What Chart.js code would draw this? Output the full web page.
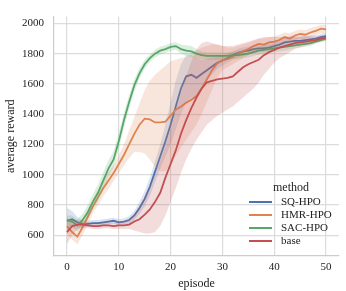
<!DOCTYPE html>
<html>
<head>
<meta charset="utf-8">
<script src="https://cdn.jsdelivr.net/npm/chart.js@4.4.1/dist/chart.umd.min.js"></script>
<style>
  html, body { margin: 0; padding: 0; background: #fff; }
  #wrap { width: 346px; height: 291px; }
</style>
</head>
<body>
<div id="wrap"><canvas id="grafico" width="346" height="291"></canvas></div>
<script>
const episodes = [0,1,2,3,4,5,6,7,8,9,10,11,12,13,14,15,16,17,18,19,20,21,22,23,24,25,26,27,28,29,30,31,32,33,34,35,36,37,38,39,40,41,42,43,44,45,46,47,48,49,50];
const methods = ['SQ-HPO', 'HMR-HPO', 'SAC-HPO', 'base'];
const yTicks = [600, 800, 1000, 1200, 1400, 1600, 1800, 2000];
const xTicks = [0, 10, 20, 30, 40, 50];

// mean curves
const sqMean  = [695,705,685,675,675,680,680,685,690,695,685,690,700,730,780,840,920,1020,1120,1220,1330,1450,1570,1650,1660,1640,1665,1690,1715,1740,1755,1770,1790,1805,1815,1820,1830,1835,1835,1840,1850,1860,1875,1880,1885,1885,1890,1895,1900,1910,1915];
const hmrMean = [660,620,590,650,720,790,850,910,960,1010,1070,1130,1200,1270,1330,1370,1365,1345,1345,1350,1390,1430,1450,1475,1495,1520,1570,1630,1690,1735,1755,1765,1780,1800,1815,1830,1850,1865,1860,1875,1880,1890,1910,1900,1920,1930,1925,1940,1950,1965,1960];
const sacMean = [700,690,665,700,750,820,880,960,1040,1100,1220,1360,1480,1590,1670,1730,1770,1800,1820,1830,1845,1850,1830,1820,1815,1800,1790,1785,1785,1785,1785,1785,1790,1790,1795,1800,1810,1820,1825,1830,1835,1840,1845,1850,1855,1860,1865,1870,1880,1890,1900];
const baseMean = [620,660,670,670,665,660,660,665,665,660,665,665,670,690,705,735,770,820,880,980,1070,1160,1270,1360,1440,1510,1570,1610,1620,1630,1635,1640,1650,1680,1710,1730,1745,1760,1790,1810,1825,1840,1850,1860,1870,1875,1880,1885,1890,1900,1905];

// confidence bands
const sqLo  = [630,650,650,650,655,660,660,665,670,675,665,670,675,700,740,790,860,950,1040,1120,1200,1300,1400,1480,1510,1520,1570,1620,1660,1700,1720,1740,1760,1775,1785,1795,1805,1810,1810,1815,1825,1835,1850,1855,1860,1860,1865,1870,1880,1890,1895];
const sqHi  = [780,760,720,700,695,700,700,705,710,715,705,710,725,760,820,890,980,1090,1200,1330,1480,1620,1730,1790,1790,1770,1760,1765,1775,1780,1790,1800,1815,1830,1840,1845,1855,1860,1860,1865,1875,1885,1900,1905,1910,1910,1915,1920,1920,1930,1935];
const hmrLo = [610,570,540,600,670,745,800,855,905,960,1010,1060,1110,1150,1150,1140,1100,1050,1020,1020,1060,1120,1180,1230,1280,1330,1400,1480,1560,1640,1690,1710,1730,1750,1770,1790,1810,1825,1820,1835,1845,1855,1875,1870,1890,1900,1895,1910,1920,1935,1930];
const hmrHi = [720,680,650,700,770,835,900,965,1015,1060,1130,1200,1290,1380,1470,1560,1620,1660,1690,1720,1750,1760,1770,1780,1800,1820,1840,1850,1860,1860,1850,1840,1840,1850,1860,1870,1885,1900,1900,1910,1915,1925,1940,1935,1950,1960,1955,1970,1980,1990,1990];
const sacLo = [670,650,625,660,700,770,825,905,985,1045,1165,1310,1435,1550,1635,1700,1745,1775,1795,1805,1820,1825,1800,1785,1780,1770,1765,1760,1760,1760,1760,1760,1765,1765,1770,1775,1785,1795,1800,1805,1810,1815,1820,1825,1835,1840,1845,1850,1865,1875,1885];
const sacHi = [730,730,705,740,800,870,935,1015,1095,1155,1275,1410,1525,1630,1705,1760,1795,1825,1845,1855,1870,1875,1860,1855,1850,1830,1815,1810,1810,1810,1810,1810,1815,1815,1820,1825,1835,1845,1850,1855,1860,1865,1870,1875,1875,1880,1885,1890,1895,1905,1915];
const baseLo = [540,600,640,645,645,640,640,645,645,640,640,640,640,630,620,610,610,620,660,730,820,910,1010,1100,1170,1230,1280,1330,1360,1390,1410,1430,1450,1480,1510,1540,1570,1610,1660,1700,1740,1770,1790,1810,1830,1840,1850,1860,1870,1880,1885];
const baseHi = [690,700,700,695,685,680,680,685,685,680,690,690,700,740,790,850,920,1000,1090,1190,1300,1420,1540,1650,1750,1830,1870,1880,1870,1860,1850,1850,1850,1860,1870,1880,1890,1900,1910,1910,1910,1910,1910,1915,1915,1915,1915,1915,1915,1920,1925];

const colors = ['#4c72b0', '#dd8452', '#55a868', '#c44e52'];
const fills = ['rgba(76,114,176,0.2)', 'rgba(221,132,82,0.2)', 'rgba(85,168,104,0.2)', 'rgba(196,78,82,0.2)'];
const means = [sqMean, hmrMean, sacMean, baseMean];
const lows = [sqLo, hmrLo, sacLo, baseLo];
const highs = [sqHi, hmrHi, sacHi, baseHi];

const pts = arr => episodes.map((e, i) => ({ x: e, y: arr[i] }));

const datasets = [];
methods.forEach((m, k) => {
  const ord = 10 * (methods.length - k);
  datasets.push({ label: m + ' lo', data: pts(lows[k]), borderWidth: 0, pointRadius: 0, fill: false, order: ord + 2 });
  datasets.push({ label: m + ' hi', data: pts(highs[k]), borderWidth: 0, pointRadius: 0, fill: '-1', backgroundColor: fills[k], order: ord + 1 });
  datasets.push({ label: m, data: pts(means[k]), borderColor: colors[k], borderWidth: 1.8, pointRadius: 0, fill: false, order: ord });
});

const legendaMetodo = {
  id: 'legendaMetodo',
  afterDraw(chart) {
    const c = chart.ctx;
    c.save();
    c.textBaseline = 'middle';
    c.fillStyle = '#222';
    c.font = "12px 'Liberation Serif', serif";
    c.textAlign = 'center';
    c.fillText('method', 291, 188);
    c.font = "11px 'Liberation Serif', serif";
    c.textAlign = 'left';
    methods.forEach((m, k) => {
      const y = 202 + k * 13;
      c.strokeStyle = colors[k];
      c.lineWidth = 2;
      c.beginPath();
      c.moveTo(249, y);
      c.lineTo(272, y);
      c.stroke();
      c.fillText(m, 281, y);
    });
    c.restore();
  }
};

Chart.defaults.font.family = "'Liberation Serif', 'DejaVu Serif', serif";
Chart.defaults.color = '#222';

const ctx = document.getElementById('grafico').getContext('2d');
new Chart(ctx, {
  type: 'line',
  data: { datasets: datasets },
  plugins: [legendaMetodo],
  options: {
    responsive: false,
    animation: false,
    layout: { padding: { top: 5, right: 7, left: 0, bottom: 0 } },
    plugins: { legend: { display: false }, tooltip: { enabled: false } },
    scales: {
      x: {
        type: 'linear',
        min: -2.5,
        max: 52.5,
        afterBuildTicks: s => { s.ticks = xTicks.map(v => ({ value: v })); },
        afterFit: s => { s.height = 35; },
        ticks: { font: { size: 11 }, padding: 5, callback: v => String(v) },
        grid: { color: '#dcdcdc', lineWidth: 1.2, drawTicks: false },
        border: { display: true, color: '#cccccc', width: 1.2 },
        title: { display: true, text: 'episode', font: { size: 12 }, padding: { top: 2, bottom: 0 } }
      },
      y: {
        min: 462,
        max: 2045,
        afterBuildTicks: s => { s.ticks = yTicks.map(v => ({ value: v })); },
        afterFit: s => { s.width = 54; },
        ticks: { font: { size: 11 }, padding: 10, callback: v => String(v) },
        grid: { color: '#dcdcdc', lineWidth: 1.2, drawTicks: false },
        border: { display: true, color: '#cccccc', width: 1.2 },
        title: { display: true, text: 'average reward', font: { size: 12 }, padding: { top: 4, bottom: 4 } }
      }
    }
  }
});
</script>
</body>
</html>
